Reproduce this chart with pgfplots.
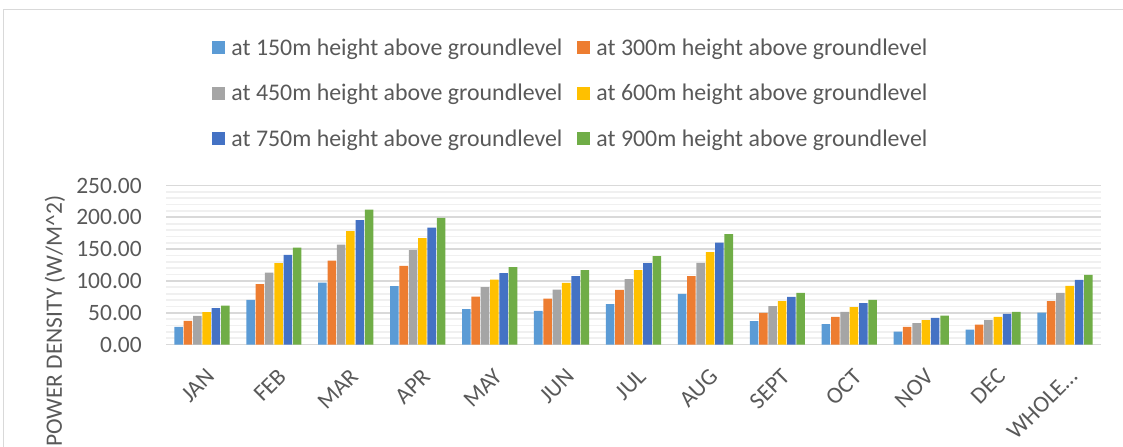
\documentclass[border=0pt]{standalone}
\usepackage{fontspec}
\setmainfont{Carlito}
\usepackage{pgfplots}
\pgfplotsset{compat=1.18}
\definecolor{sA}{HTML}{5B9BD5}
\definecolor{sB}{HTML}{ED7D31}
\definecolor{sC}{HTML}{A5A5A5}
\definecolor{sD}{HTML}{FFC000}
\definecolor{sE}{HTML}{4472C4}
\definecolor{sF}{HTML}{70AD47}
\definecolor{txtgray}{HTML}{595959}
\definecolor{gridmajor}{HTML}{D9D9D9}
\definecolor{gridminor}{HTML}{F0F0F0}
\begin{document}
\begin{tikzpicture}
\useasboundingbox (0,0) rectangle (842.25pt,-334.5pt);
\clip (0,0) rectangle (842.25pt,-334.5pt);
\draw[gridmajor, line width=0.8pt] (2.4pt,-7.2pt) rectangle (900pt,-400pt);
\begin{axis}[
  at={(124.5pt,-258.4pt)}, anchor=south west,
  scale only axis, width=701.25pt, height=119.25pt,
  ybar=0.6pt, bar width=6.4pt,
  xmin=-0.5, xmax=12.5, ymin=0, ymax=250,
  xtick={0,...,12},
  xticklabels={JAN,FEB,MAR,APR,MAY,JUN,JUL,AUG,SEPT,OCT,NOV,DEC,WHOLE…},
  ytick={0,50,...,250},
  minor y tick num=4,
  ymajorgrids, yminorgrids,
  major grid style={gridmajor, line width=1.3pt},
  minor grid style={gridminor, line width=1.3pt},
  axis line style={draw=none},
  major tick length=0pt, minor tick length=0pt,
  tick style={draw=none},
  /pgf/number format/.cd, fixed, fixed zerofill, precision=2, assume math mode=true,
  /pgfplots/.cd,
  yticklabel style={font=\fontsize{17.6}{21}\selectfont, text=txtgray, anchor=east, inner sep=0pt, xshift=-18pt},
  xticklabel style={font=\fontsize{17.6}{21}\selectfont, text=txtgray, rotate=45, anchor=east, inner sep=0pt, text height=11.3pt, text depth=0pt, xshift=-10.4pt, yshift=-19.4pt},
  ylabel={POWER DENSITY (W/M\textasciicircum 2)},
  ylabel style={at={(axis description cs:-0.1187,0.940)}, anchor=east, inner sep=0pt, font=\fontsize{17.6}{21}\selectfont, text=txtgray},
  legend columns=2,
  legend cell align=left,
  legend image code/.code={\fill[#1] (0pt,-4.875pt) rectangle (9.75pt,4.875pt); \path (14.25pt,0pt);},
  legend style={at={(axis description cs:0.432,1.580)}, anchor=center, draw=none, fill=none,
    font=\fontsize{17.9}{21}\selectfont, text=txtgray,
    nodes={inner sep=0pt, text height=11.3pt, text depth=0pt},
    row sep=22.8pt,
    /tikz/every even column/.append style={column sep=11.25pt}},
]
\addplot[draw=none, fill=sA] coordinates {(0,27.8)(1,70.2)(2,97.5)(3,91.7)(4,55.6)(5,52.9)(6,63.4)(7,79.7)(8,36.7)(9,32.0)(10,20.4)(11,23.6)(12,50.3)};
\addplot[draw=none, fill=sB] coordinates {(0,37.2)(1,94.9)(2,132.1)(3,123.7)(4,75.5)(5,72.3)(6,86.0)(7,107.4)(8,49.8)(9,43.5)(10,27.8)(11,31.4)(12,68.1)};
\addplot[draw=none, fill=sC] coordinates {(0,45.1)(1,113.2)(2,157.2)(3,148.3)(4,90.1)(5,86.5)(6,102.7)(7,128.4)(8,60.3)(9,51.4)(10,33.5)(11,38.3)(12,81.2)};
\addplot[draw=none, fill=sD] coordinates {(0,50.8)(1,127.9)(2,178.2)(3,167.2)(4,102.2)(5,97.0)(6,116.9)(7,145.2)(8,68.1)(9,58.7)(10,38.3)(11,43.5)(12,92.2)};
\addplot[draw=none, fill=sE] coordinates {(0,57.1)(1,141.0)(2,195.5)(3,184.0)(4,112.2)(5,107.4)(6,127.9)(7,160.4)(8,74.9)(9,65.0)(10,41.9)(11,48.2)(12,101.7)};
\addplot[draw=none, fill=sF] coordinates {(0,61.3)(1,152.5)(2,212.3)(3,199.2)(4,121.6)(5,116.9)(6,138.9)(7,173.5)(8,81.2)(9,70.2)(10,45.6)(11,51.4)(12,109.5)};
\legend{at 150m height above groundlevel, at 300m height above groundlevel, at 450m height above groundlevel, at 600m height above groundlevel, at 750m height above groundlevel, at 900m height above groundlevel}
\end{axis}
\end{tikzpicture}
\end{document}
